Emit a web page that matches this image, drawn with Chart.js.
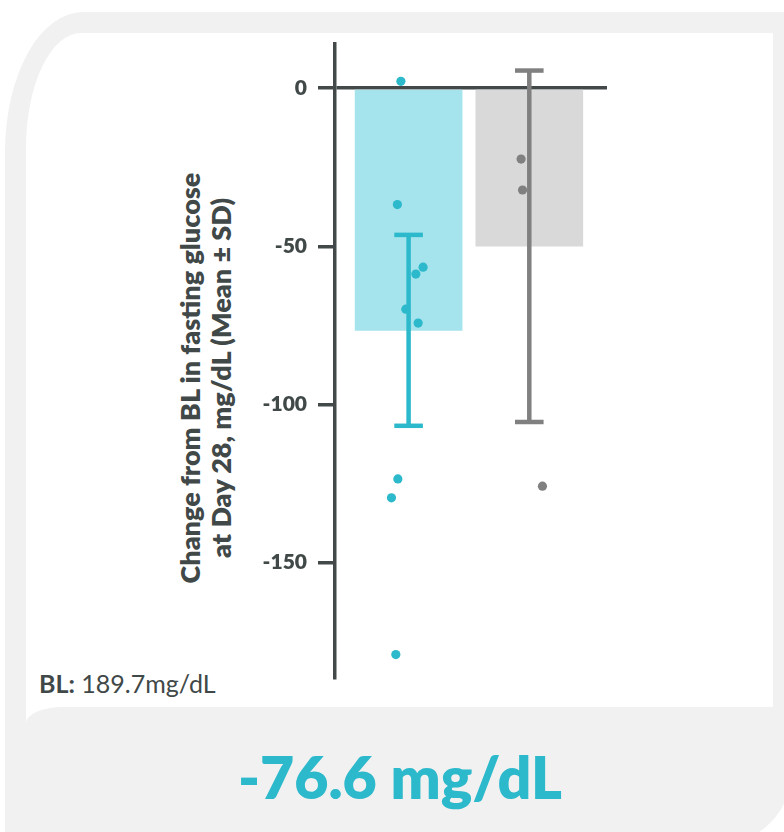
<!DOCTYPE html>
<html>
<head>
<meta charset="utf-8">
<script src="https://cdn.jsdelivr.net/npm/chart.js@4.4.1/dist/chart.umd.min.js"></script>
<style>
  html, body { margin: 0; padding: 0; background: #fff; }
  body { width: 784px; height: 832px; position: relative; overflow: hidden; font-family: Lato, sans-serif; }
  .outer { position: absolute; left: 5px; top: 12px; width: 787px; height: 833px; background: #f1f1f1;
           border-radius: 78px 0 75px 0 / 140px 0 75px 0; }
  .panel { position: absolute; left: 26px; top: 33px; width: 747px; height: 697px; background: #fff;
           border-top-left-radius: 55px 115px; }
  .foot { position: absolute; left: 26px; top: 707px; width: 747px; height: 40px; background: #f1f1f1;
          border-top-left-radius: 37px 16px; }
  .ytitle { position: absolute; left: 205px; top: 378px; width: 470px; transform: translate(-50%, -50%) rotate(-90deg);
            text-align: center; font-weight: 800; font-size: 27px; line-height: 31px; color: #414848; white-space: nowrap; }
  .bl { position: absolute; left: 39px; top: 668px; font-size: 25px; color: #414848; white-space: nowrap; }
  .big { position: absolute; left: 400px; top: 741px; transform: translateX(-50%); font-size: 59px; font-weight: 800;
         color: #2cb9cb; white-space: nowrap; }
  #wrap { position: absolute; left: 0; top: 0; width: 784px; height: 832px; }
</style>
</head>
<body>
<div class="outer"></div>
<div class="panel"></div>
<div class="foot"></div>
<div class="ytitle">Change from BL in fasting glucose<br>at Day 28, mg/dL (Mean ± SD)</div>
<div class="bl"><b>BL:</b> 189.7mg/dL</div>
<div class="big">-76.6 mg/dL</div>
<div id="wrap"><canvas id="chart"></canvas></div>
<script>
// group positions on the x axis (0 = active arm, 1 = comparator)
var groupPos = [0, 1];
var meanChange = [-76.6, -50.0];
var sdChange = [30.2, 55.6];
var yTicks = [0, -50, -100, -150];

// individual subjects, with horizontal jitter
var activeVals = [2.2, -36.8, -56.6, -58.8, -69.9, -74.3, -123.6, -129.6, -179.2];
var activeJitter = [-0.064, -0.093, 0.120, 0.060, -0.023, 0.079, -0.089, -0.142, -0.106];
var controlVals = [-22.4, -32.2, -125.9];
var controlJitter = [-0.068, -0.056, 0.109];

var barColors = ["#a5e4ec", "#d9d9d9"];
var darkColors = ["#2cb9cb", "#808080"];
var axisColor = "#434949";

Chart.defaults.font.family = "Lato";

function errorSet(i) {
    return {
        type: "line",
        data: [
            { x: groupPos[i], y: meanChange[i] + sdChange[i] },
            { x: groupPos[i], y: meanChange[i] - sdChange[i] }
        ],
        borderColor: darkColors[i],
        borderWidth: 4.5,
        pointStyle: "line",
        pointRadius: 14.3,
        pointBorderWidth: 4.5,
        pointBorderColor: darkColors[i],
        order: 2
    };
}

function dotSet(vals, jitter, i) {
    return {
        type: "scatter",
        data: vals.map(function (v, k) { return { x: groupPos[i] + jitter[k], y: v }; }),
        backgroundColor: darkColors[i],
        borderWidth: 0,
        pointRadius: 4.6,
        order: 1
    };
}

var data = {
    datasets: [
        {
            type: "bar",
            data: groupPos.map(function (p, i) { return { x: p, y: meanChange[i] }; }),
            backgroundColor: barColors,
            borderWidth: 0,
            barThickness: 107,
            order: 3
        },
        errorSet(0),
        errorSet(1),
        dotSet(activeVals, activeJitter, 0),
        dotSet(controlVals, controlJitter, 1)
    ]
};

var options = {
    responsive: true,
    maintainAspectRatio: false,
    animation: false,
    events: [],
    layout: { padding: { left: 0, top: 44, right: 177, bottom: 154 } },
    plugins: { legend: { display: false }, tooltip: { enabled: false } },
    scales: {
        x: {
            type: "linear",
            display: false,
            offset: false,
            min: -0.6098,
            max: 1.6438
        },
        y: {
            min: -186.6,
            max: 14.0,
            z: 1,
            afterFit: function (s) { s.width = 335; },
            afterBuildTicks: function (s) { s.ticks = yTicks.map(function (v) { return { value: v }; }); },
            border: { display: true, color: axisColor, width: 3.5 },
            grid: {
                drawOnChartArea: true,
                color: function (c) { return c.tick && c.tick.value === 0 ? axisColor : "rgba(0,0,0,0)"; },
                tickColor: axisColor,
                lineWidth: 3.5,
                tickLength: 17
            },
            ticks: {
                padding: 11,
                color: "#414848",
                font: { size: 21, weight: 800 }
            }
        }
    }
};

var chart = new Chart(document.getElementById("chart"), {
    type: "bar",
    data: data,
    options: options
});
</script>
</body>
</html>
